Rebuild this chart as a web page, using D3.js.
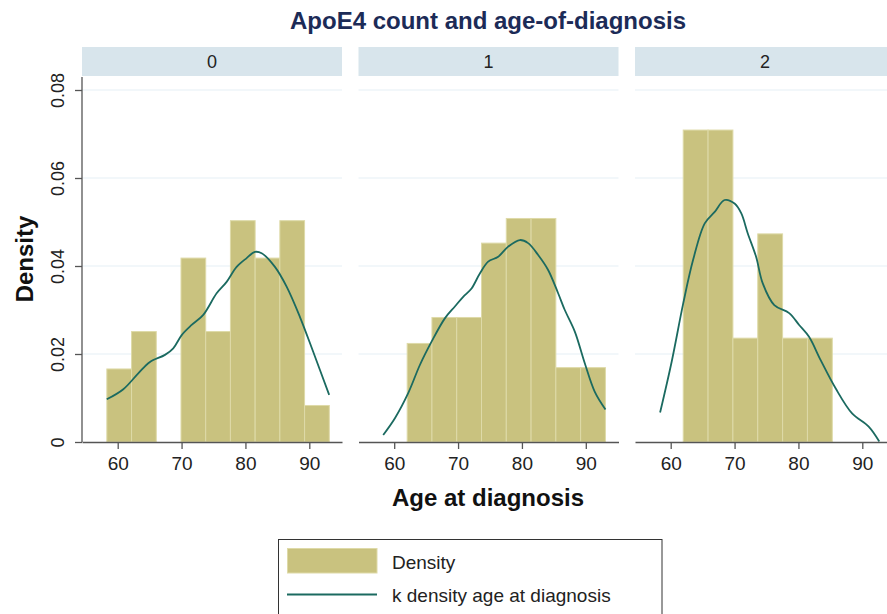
<!DOCTYPE html>
<html>
<head>
<meta charset="utf-8">
<script src="https://cdn.jsdelivr.net/npm/d3@7"></script>
<style>
  html, body { margin: 0; padding: 0; background: #ffffff; }
  svg { display: block; font-family: "Liberation Sans", Arial, Helvetica, sans-serif; }
</style>
</head>
<body>
<svg id="chart" width="887" height="614"></svg>
<script>
// ---------------- data ----------------
const panelLabels = ["0", "1", "2"];
const titleText = "ApoE4 count and age-of-diagnosis";
const xTitle = "Age at diagnosis";
const yTitle = "Density";
const xTicks = [60, 70, 80, 90];
const yTicks = [0, 0.02, 0.04, 0.06, 0.08];
const yTickLabels = ["0", "0.02", "0.04", "0.06", "0.08"];
const legendLabels = ["Density", "k density age at diagnosis"];

// histogram: first bin start, bin width, bar heights per panel
const histStart = [58.3, 62.03, 61.96];
const histWidth = [3.87, 3.88, 3.89];
const hist0 = [0.0166, 0.0251, 0, 0.0418, 0.0251, 0.0503, 0.0418, 0.0503, 0.0083];
const hist1 = [0.0224, 0.0283, 0.0283, 0.0452, 0.0508, 0.0508, 0.0169, 0.0169];
const hist2 = [0.0709, 0.0709, 0.0236, 0.0473, 0.0236, 0.0236];

// kernel density estimates per panel
const kdeX0 = [58.28, 60.88, 63.22, 65.05, 67.40, 68.70, 70.02, 71.58, 73.40, 75.49, 77.06, 78.62, 80.19, 81.49, 82.54, 84.62, 86.45, 88.54, 90.61, 93.11];
const kdeY0 = [0.0097, 0.0120, 0.0156, 0.0182, 0.0198, 0.0213, 0.0243, 0.0266, 0.0289, 0.0338, 0.0364, 0.0398, 0.0418, 0.0432, 0.0429, 0.0398, 0.0353, 0.0284, 0.0205, 0.0107];
const kdeX1 = [58.28, 60.11, 62.19, 64.02, 65.85, 67.93, 69.50, 70.80, 72.11, 73.41, 74.71, 76.28, 77.84, 79.67, 80.97, 82.54, 84.10, 85.67, 86.71, 88.28, 89.84, 91.41, 93.08];
const kdeY1 = [0.0016, 0.0054, 0.0111, 0.0175, 0.0228, 0.0281, 0.0308, 0.0330, 0.0349, 0.0383, 0.0410, 0.0421, 0.0444, 0.0459, 0.0452, 0.0425, 0.0391, 0.0338, 0.0300, 0.0251, 0.0179, 0.0114, 0.0074];
const kdeX2 = [58.34, 60.16, 61.96, 63.51, 65.33, 66.89, 68.44, 70.00, 71.04, 72.07, 73.37, 74.40, 76.22, 78.55, 80.11, 81.66, 83.48, 85.82, 88.40, 91.00, 92.66];
const kdeY2 = [0.0067, 0.0183, 0.0315, 0.0414, 0.0497, 0.0523, 0.0550, 0.0542, 0.0520, 0.0474, 0.0421, 0.0361, 0.0311, 0.0293, 0.0266, 0.0239, 0.0186, 0.0122, 0.0065, 0.0035, 0.0001];

const histData = [hist0, hist1, hist2];
const kdeXs = [kdeX0, kdeX1, kdeX2];
const kdeYs = [kdeY0, kdeY1, kdeY2];

// ---------------- layout ----------------
const barFill = "#c9c27f", barStroke = "#dedaa8";
const lineColor = "#1b6a60";
const stripFill = "#d8e5ec";
const gridColor = "#e6f0f5";
const axisColor = "#555555";
const textColor = "#222222";

const panelLeft0 = 82, panelStep = 276.5, panelW = 260;
const stripTop = 47, stripH = 29;
const plotTop = 77, plotBottom = 442;

const svg = d3.select("#chart");

const y = d3.scaleLinear().domain([0, 0.08]).range([442, 90]);

// title
svg.append("text")
  .attr("x", 488).attr("y", 29)
  .attr("text-anchor", "middle")
  .attr("font-size", 24).attr("font-weight", "bold")
  .attr("fill", "#1c2b57")
  .text(titleText);

panelLabels.forEach((lab, i) => {
  const left = panelLeft0 + i * panelStep;
  const g = svg.append("g").attr("transform", `translate(${left},0)`);
  const x = d3.scaleLinear().domain([54.41, 95.12]).range([0, panelW]);

  // strip
  g.append("rect").attr("x", 0).attr("y", stripTop).attr("width", panelW).attr("height", stripH)
    .attr("fill", stripFill);
  g.append("text").attr("x", panelW / 2).attr("y", stripTop + 21)
    .attr("text-anchor", "middle").attr("font-size", 18).attr("fill", textColor)
    .text(lab);

  // gridlines
  g.selectAll("line.grid").data(yTicks.filter(t => t > 0)).enter().append("line")
    .attr("x1", 0).attr("x2", panelW)
    .attr("y1", d => y(d)).attr("y2", d => y(d))
    .attr("stroke", gridColor).attr("stroke-width", 1.2);

  // bars
  const hs = histData[i];
  g.selectAll("rect.bar").data(hs.map((v, k) => ({k, v}))).enter()
    .filter(d => d.v > 0)
    .append("rect")
    .attr("x", d => x(histStart[i] + d.k * histWidth[i]))
    .attr("width", x(histStart[i] + histWidth[i]) - x(histStart[i]))
    .attr("y", d => y(d.v))
    .attr("height", d => y(0) - y(d.v))
    .attr("fill", barFill).attr("stroke", barStroke).attr("stroke-width", 1);

  // kde line
  const pts = kdeXs[i].map((xv, k) => [xv, kdeYs[i][k]]);
  g.append("path").datum(pts)
    .attr("d", d3.line().x(d => x(d[0])).y(d => y(d[1])).curve(d3.curveCatmullRom))
    .attr("fill", "none").attr("stroke", lineColor).attr("stroke-width", 1.8);

  // x axis
  const xa = g.append("g").attr("transform", `translate(0,${plotBottom})`)
    .call(d3.axisBottom(x).tickValues(xTicks).tickSize(7).tickPadding(8).tickSizeOuter(0));
  xa.select(".domain").attr("stroke", axisColor).attr("stroke-width", 1.3);
  xa.selectAll(".tick line").attr("stroke", axisColor).attr("stroke-width", 1.3);
  xa.selectAll(".tick text").attr("font-size", 19).attr("fill", textColor)
    .attr("font-family", "'Liberation Sans', Arial, sans-serif");

  if (i === 0) {
    const ya = g.append("g")
      .call(d3.axisLeft(y).tickValues(yTicks).tickFormat((d, k) => yTickLabels[k]).tickSize(7).tickSizeOuter(0));
    ya.select(".domain").attr("d", `M0,${plotTop}V${plotBottom}`).attr("stroke", axisColor).attr("stroke-width", 1.3);
    ya.selectAll(".tick line").attr("stroke", axisColor).attr("stroke-width", 1.3);
    ya.selectAll(".tick text")
      .attr("font-size", 18).attr("fill", textColor)
      .attr("font-family", "'Liberation Sans', Arial, sans-serif")
      .attr("x", null).attr("dy", null)
      .attr("text-anchor", "middle")
      .attr("transform", "translate(-18.5,0) rotate(-90)");
  }
});

// axis titles
svg.append("text")
  .attr("x", 488).attr("y", 506)
  .attr("text-anchor", "middle").attr("font-size", 24).attr("font-weight", "bold")
  .attr("fill", "#111").text(xTitle);
svg.append("text")
  .attr("transform", "translate(33,259) rotate(-90)")
  .attr("text-anchor", "middle").attr("font-size", 24).attr("font-weight", "bold")
  .attr("fill", "#111").text(yTitle);

// legend
const lg = svg.append("g");
lg.append("rect").attr("x", 278.5).attr("y", 539.5).attr("width", 383.5).attr("height", 120)
  .attr("fill", "#fff").attr("stroke", "#333").attr("stroke-width", 1);
lg.append("rect").attr("x", 287.5).attr("y", 548.5).attr("width", 89.5).attr("height", 24.5)
  .attr("fill", barFill).attr("stroke", barStroke).attr("stroke-width", 1);
lg.append("line").attr("x1", 287).attr("x2", 377).attr("y1", 594.5).attr("y2", 594.5)
  .attr("stroke", lineColor).attr("stroke-width", 1.8);
lg.selectAll("text.leg").data(legendLabels).enter().append("text")
  .attr("x", 392).attr("y", (d, k) => k === 0 ? 569 : 601.5)
  .attr("font-size", 19).attr("fill", textColor).text(d => d);
</script>
</body>
</html>
